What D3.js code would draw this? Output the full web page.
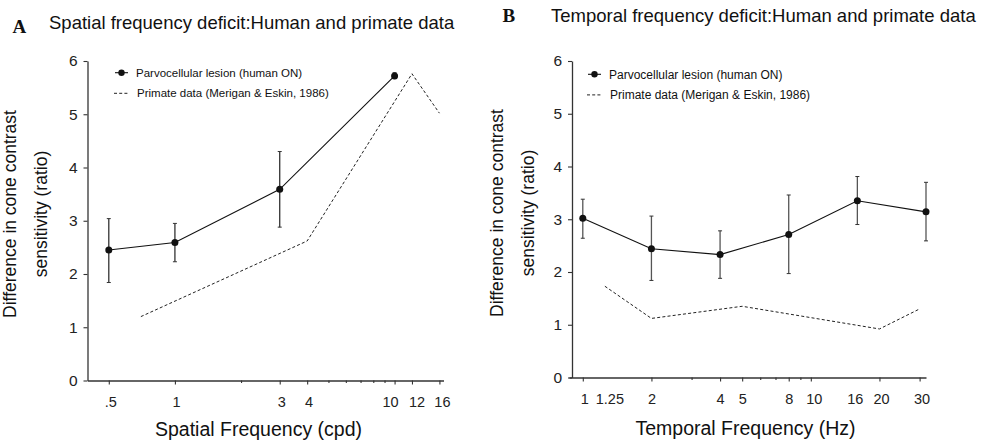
<!DOCTYPE html>
<html>
<head>
<meta charset="utf-8">
<script src="https://cdn.jsdelivr.net/npm/d3@7"></script>
<style>
  body { margin: 0; background: #fff; }
  svg { display: block; font-family: "Liberation Sans", Arial, sans-serif; }
</style>
</head>
<body>
<div id="chart"></div>
<script>
// --- panel A: spatial frequency ---
const spatialFreq = [0.5, 1, 3, 10];
const spatialHuman = [2.45, 2.59, 3.59, 5.72];
const spatialErrHi = [3.04, 2.95, 4.30, 5.78];
const spatialErrLo = [1.84, 2.23, 2.88, 5.67];
const spatialPrimateFreq = [0.7, 4, 12, 16];
const spatialPrimate = [1.20, 2.62, 5.76, 5.02];
const spatialTicks = [0.5, 1, 3, 4, 10, 12, 16];
const spatialTickLabels = ['.5', '1', '3', '4', '10', '12', '16'];
const spatialMinor = [2, 5, 6, 7, 8, 9];

// --- panel B: temporal frequency ---
const temporalFreq = [1, 2, 4, 8, 16, 32];
const temporalHuman = [3.02, 2.44, 2.33, 2.71, 3.35, 3.14];
const temporalErrHi = [3.38, 3.06, 2.78, 3.46, 3.81, 3.70];
const temporalErrLo = [2.64, 1.84, 1.88, 1.97, 2.90, 2.59];
const temporalPrimateFreq = [1.25, 2, 5, 20, 30];
const temporalPrimate = [1.73, 1.12, 1.35, 0.92, 1.30];
const temporalTicks = [1, 1.25, 2, 4, 5, 8, 10, 16, 20, 30];
const temporalTickLabels = ['1', '1.25', '2', '4', '5', '8', '10', '16', '20', '30'];
const temporalNoTickLine = [1.25, 16];
const temporalMinor = [3, 6, 7, 9];

const yTicks = [0, 1, 2, 3, 4, 5, 6];
const legendLabels = ['Parvocellular lesion (human ON)', 'Primate data (Merigan & Eskin, 1986)'];
const yLabelLines = ['Difference in cone contrast', 'sensitivity (ratio)'];

const width = 983, height = 442;
const svg = d3.select('#chart').append('svg')
    .attr('width', width)
    .attr('height', height);

const panels = [
    {
        letter: 'A', title: 'Spatial frequency deficit:Human and primate data',
        letterX: 12.5, letterY: 32.7, titleX: 49, titleY: 29.3,
        xDomain: [0.4, 16.7], xRange: [87.5, 443.5], yAxisX: 87.5,
        yRange: [380.5, 61],
        freq: spatialFreq, human: spatialHuman, hi: spatialErrHi, lo: spatialErrLo,
        pFreq: spatialPrimateFreq, primate: spatialPrimate,
        ticks: spatialTicks, tickLabels: spatialTickLabels, noLine: [], minor: spatialMinor,
        xLabel: 'Spatial Frequency (cpd)', xLabelX: 258.5, xLabelY: 436,
        yLab1X: 15.5, yLab2X: 47, yLabY: 214,
        legX: 115, legY: 72.7, legFont: 11.5,
        labelShift: { 0.5: 1.5, 1: 1, 3: 1.5, 4: 1.3, 10: -4.5, 12: 4.5, 16: 2.5 },
        errColor: '#333'
    },
    {
        letter: 'B', title: 'Temporal frequency deficit:Human and primate data',
        letterX: 502.5, letterY: 21.5, titleX: 551, titleY: 21.7,
        xDomain: [0.87, 32], xRange: [569, 926], yAxisX: 572,
        yRange: [377.5, 61],
        freq: temporalFreq, human: temporalHuman, hi: temporalErrHi, lo: temporalErrLo,
        pFreq: temporalPrimateFreq, primate: temporalPrimate,
        ticks: temporalTicks, tickLabels: temporalTickLabels, noLine: temporalNoTickLine, minor: temporalMinor,
        xLabel: 'Temporal Frequency (Hz)', xLabelX: 745.5, xLabelY: 435,
        yLab1X: 503, yLab2X: 534, yLabY: 213,
        legX: 588, legY: 74.3, legFont: 12,
        labelShift: { 1: 1.5, 1.25: 4.5, 10: 3, 16: -2.5, 20: 1.5, 30: 2 },
        errColor: '#555'
    }
];

panels.forEach(drawPanel);

function drawPanel(p) {
    const g = svg.append('g');
    const x = d3.scaleLog().domain(p.xDomain).range(p.xRange);
    const y = d3.scaleLinear().domain([0, 6]).range(p.yRange);
    const x0 = p.yRange[0];

    // titles
    g.append('text')
        .attr('x', p.letterX).attr('y', p.letterY)
        .attr('font-family', '"Liberation Serif", "Times New Roman", serif')
        .attr('font-weight', 'bold').attr('font-size', 19)
        .attr('fill', '#111')
        .text(p.letter);
    g.append('text')
        .attr('x', p.titleX).attr('y', p.titleY)
        .attr('font-size', 18.5).attr('fill', '#111')
        .text(p.title);

    // y axis
    const yAxis = g.append('g')
        .attr('transform', `translate(${p.yAxisX},0)`)
        .call(d3.axisLeft(y).tickValues(yTicks).tickFormat(d3.format('d'))
            .tickSize(4).tickSizeOuter(0).tickPadding(6));

    // x axis (labelled ticks)
    const labelOf = d3.scaleOrdinal().domain(p.ticks).range(p.tickLabels);
    const xAxis = g.append('g')
        .attr('transform', `translate(0,${x0})`)
        .call(d3.axisBottom(x).tickValues(p.ticks).tickFormat(d => labelOf(d))
            .tickSize(4).tickSizeOuter(0).tickPadding(12));
    xAxis.selectAll('.tick').filter(d => p.noLine.includes(d)).select('line').remove();
    xAxis.selectAll('.tick').filter(d => p.labelShift[d] !== undefined)
        .select('text').attr('dx', d => p.labelShift[d]);

    // minor ticks
    const minorAxis = g.append('g')
        .attr('transform', `translate(0,${x0})`)
        .call(d3.axisBottom(x).tickValues(p.minor).tickFormat('').tickSize(2.5).tickSizeOuter(0));
    minorAxis.select('.domain').remove();

    [yAxis, xAxis, minorAxis].forEach(a => {
        a.selectAll('.domain').attr('stroke', '#333').attr('stroke-width', 1.3);
        a.selectAll('.tick line').attr('stroke', '#333').attr('stroke-width', 1.1);
        a.selectAll('.tick text').attr('font-size', 14.5).attr('fill', '#222')
            .attr('font-family', '"Liberation Sans", Arial, sans-serif');
    });
    yAxis.selectAll('.tick text').attr('font-size', 15.5);

    // axis titles
    g.append('text')
        .attr('x', p.xLabelX).attr('y', p.xLabelY)
        .attr('text-anchor', 'middle')
        .attr('font-size', 19.5).attr('fill', '#111')
        .text(p.xLabel);
    [p.yLab1X, p.yLab2X].forEach((lx, i) => {
        g.append('text')
            .attr('transform', `translate(${lx},${p.yLabY}) rotate(-90)`)
            .attr('text-anchor', 'middle')
            .attr('font-size', 17.5).attr('fill', '#111')
            .text(yLabelLines[i]);
    });

    // primate dashed line
    const primatePts = p.pFreq.map((f, i) => [f, p.primate[i]]);
    g.append('path')
        .datum(primatePts)
        .attr('fill', 'none')
        .attr('stroke', '#222')
        .attr('stroke-width', 1)
        .attr('stroke-dasharray', '3,2.2')
        .attr('d', d3.line().x(d => x(d[0])).y(d => y(d[1])));

    // human line
    const humanPts = p.freq.map((f, i) => ({ f: f, v: p.human[i], hi: p.hi[i], lo: p.lo[i] }));
    g.append('path')
        .datum(humanPts)
        .attr('fill', 'none')
        .attr('stroke', '#111')
        .attr('stroke-width', 1.1)
        .attr('d', d3.line().x(d => x(d.f)).y(d => y(d.v)));

    // error bars
    const eb = g.append('g').selectAll('g.err')
        .data(humanPts)
        .join('g').attr('class', 'err');
    eb.append('line')
        .attr('x1', d => x(d.f)).attr('x2', d => x(d.f))
        .attr('y1', d => y(d.hi)).attr('y2', d => y(d.lo))
        .attr('stroke', p.errColor).attr('stroke-width', 1.3);
    eb.selectAll('line.cap')
        .data(d => [{ f: d.f, v: d.hi }, { f: d.f, v: d.lo }])
        .join('line').attr('class', 'cap')
        .attr('x1', d => x(d.f) - 2).attr('x2', d => x(d.f) + 2)
        .attr('y1', d => y(d.v)).attr('y2', d => y(d.v))
        .attr('stroke', '#333').attr('stroke-width', 1);

    g.append('g').selectAll('circle')
        .data(humanPts)
        .join('circle')
        .attr('cx', d => x(d.f)).attr('cy', d => y(d.v))
        .attr('r', 3.5)
        .attr('fill', '#111');

    // legend
    const leg = g.append('g').attr('transform', `translate(${p.legX},${p.legY})`);
    leg.append('line')
        .attr('x1', 0).attr('x2', 13).attr('y1', 0).attr('y2', 0)
        .attr('stroke', '#111').attr('stroke-width', 1.1);
    leg.append('circle').attr('cx', 6.5).attr('cy', 0).attr('r', 3.2).attr('fill', '#111');
    leg.append('line')
        .attr('x1', -1).attr('x2', 14).attr('y1', 20.6).attr('y2', 20.6)
        .attr('stroke', '#222').attr('stroke-width', 1)
        .attr('stroke-dasharray', '3,2.2');
    leg.selectAll('text.leg')
        .data(legendLabels)
        .join('text').attr('class', 'leg')
        .attr('x', (d, i) => i === 0 ? 21 : 22)
        .attr('y', (d, i) => i * 20.6)
        .attr('dy', '0.35em')
        .attr('font-size', p.legFont)
        .attr('fill', '#111')
        .text(d => d);
}
</script>
</body>
</html>
